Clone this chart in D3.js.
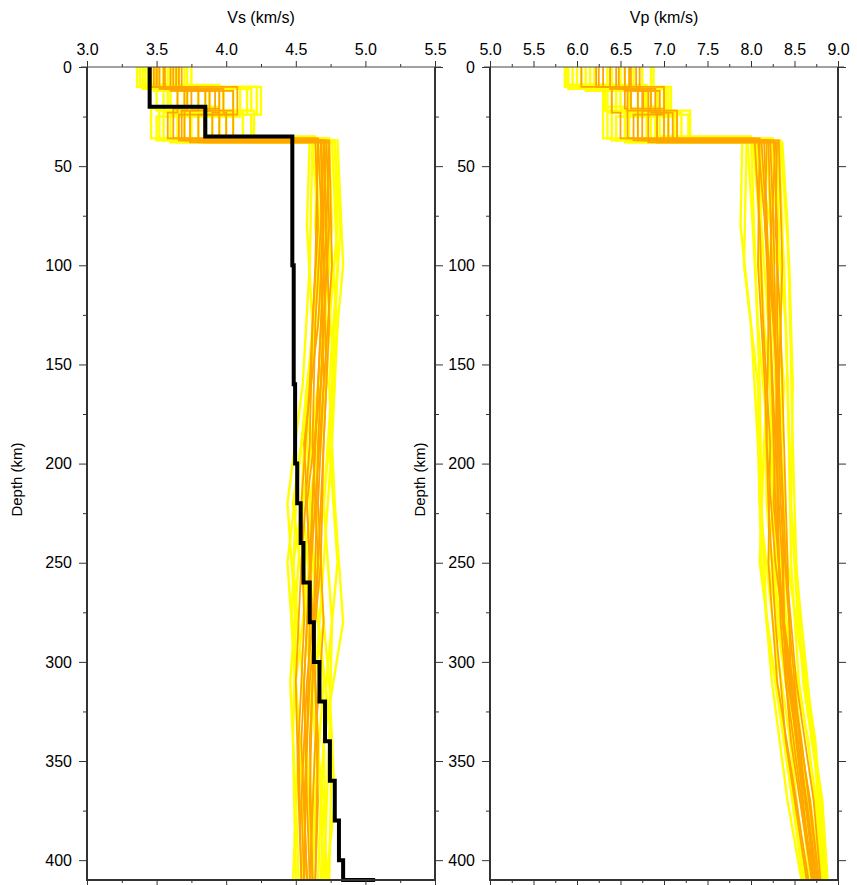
<!DOCTYPE html>
<html>
<head>
<meta charset="utf-8">
<script src="https://cdn.jsdelivr.net/npm/d3@7"></script>
<style>
  html, body { margin: 0; padding: 0; background: #fff; }
  svg { display: block; }
  text { font-family: "Liberation Sans", Arial, Helvetica, sans-serif; fill: #000; }
</style>
</head>
<body>
<svg id="chart" width="857" height="885"></svg>
<script>
// ---- Axis settings ----
const depthMajorTicks = [0, 50, 100, 150, 200, 250, 300, 350, 400];
const depthMinorTicks = [25, 75, 125, 175, 225, 275, 325, 375];
const vsMajorTicks = [3.0, 3.5, 4.0, 4.5, 5.0, 5.5];
const vsMinorTicks = [3.25, 3.75, 4.25, 4.75, 5.25];
const vpMajorTicks = [5.0, 5.5, 6.0, 6.5, 7.0, 7.5, 8.0, 8.5, 9.0];
const vpMinorTicks = [5.25, 5.75, 6.25, 6.75, 7.25, 7.75, 8.25, 8.75];
const depthDomain = [0, 410];
const vsDomain = [3.0, 5.5];
const vpDomain = [5.0, 9.0];

// ---- Ensemble of inverted models ----
// Mantle velocity nodes are given at the Moho and then at one of two node-depth sets,
// chosen by the row length (7 values -> set A, 8 values -> set B).
const nodeDepthsA = [100, 160, 220, 280, 340, 410];
const nodeDepthsB = [80, 130, 190, 250, 310, 370, 410];

// accepted models (yellow)
const allCrustDepths = [
  [11,22,37],[10,24,38],[12,21,36],[9,20,37],[11,25,38],[10,22,36],
  [12,23,37],[11,24,38],[9,21,35],[10,23,37],[12,22,38],[11,20,36],
  [10,24,37],[9,22,38],[11,21,36],[12,25,37],[10,23,38],[11,22,37]
];
const allCrustVs = [
  [3.40,3.70,3.55],[3.75,4.22,4.18],[3.52,3.58,3.46],[3.45,3.95,3.80],[3.65,4.10,3.95],[3.36,3.50,3.70],
  [3.58,3.85,4.05],[3.70,4.15,3.60],[3.42,3.65,3.90],[3.62,3.98,4.12],[3.48,3.80,3.65],[3.55,3.72,3.52],
  [3.72,4.25,4.00],[3.38,3.60,4.20],[3.60,3.88,3.75],[3.50,4.05,3.50],[3.66,3.55,3.85],[3.44,4.18,3.95]
];
const allCrustVp = [
  [5.90,6.45,6.40],[6.88,7.05,7.28],[6.10,6.32,6.30],[6.00,6.80,6.95],[6.60,6.95,7.15],[5.86,6.30,6.70],
  [6.40,6.70,7.05],[6.75,7.00,6.55],[5.95,6.50,6.90],[6.55,6.85,7.20],[6.20,6.62,6.60],[6.35,6.60,6.35],
  [6.85,7.08,7.00],[5.88,6.40,7.30],[6.50,6.78,6.80],[6.15,6.92,6.45],[6.65,6.35,6.85],[6.05,7.02,7.12]
];
const allMantleVs = [
  [4.62,4.60,4.55,4.44,4.50,4.48,4.50],
  [4.78,4.82,4.78,4.74,4.80,4.72,4.68,4.66],
  [4.70,4.74,4.66,4.55,4.62,4.58,4.55],
  [4.66,4.70,4.72,4.62,4.48,4.55,4.60,4.62],
  [4.76,4.80,4.74,4.78,4.84,4.70,4.72],
  [4.60,4.58,4.62,4.56,4.52,4.46,4.50,4.52],
  [4.68,4.72,4.78,4.70,4.60,4.66,4.62],
  [4.74,4.76,4.70,4.64,4.66,4.74,4.78,4.72],
  [4.64,4.68,4.58,4.50,4.47,4.52,4.48],
  [4.72,4.74,4.80,4.76,4.70,4.64,4.68,4.70],
  [4.70,4.66,4.60,4.48,4.58,4.64,4.60],
  [4.66,4.64,4.70,4.66,4.60,4.50,4.55,4.58],
  [4.80,4.84,4.76,4.70,4.76,4.74,4.70],
  [4.62,4.66,4.64,4.58,4.62,4.70,4.64,4.60],
  [4.74,4.70,4.68,4.64,4.70,4.56,4.62],
  [4.68,4.72,4.66,4.54,4.44,4.50,4.56,4.55],
  [4.64,4.76,4.72,4.60,4.66,4.76,4.74],
  [4.78,4.80,4.74,4.68,4.56,4.60,4.70,4.68]
];
const allMantleVp = [
  [7.95,7.92,8.08,8.10,8.25,8.45,8.62],
  [8.36,8.42,8.45,8.48,8.52,8.60,8.80,8.86],
  [8.10,8.20,8.22,8.25,8.35,8.50,8.70],
  [8.02,8.10,8.15,8.30,8.20,8.40,8.60,8.75],
  [8.30,8.38,8.42,8.45,8.58,8.72,8.84],
  [7.90,7.88,8.00,8.08,8.12,8.24,8.42,8.58],
  [8.18,8.25,8.38,8.32,8.40,8.56,8.74],
  [8.28,8.32,8.30,8.35,8.42,8.62,8.82,8.88],
  [8.00,8.05,8.10,8.12,8.18,8.38,8.60],
  [8.22,8.30,8.40,8.44,8.46,8.55,8.75,8.84],
  [8.12,8.10,8.16,8.18,8.30,8.50,8.68],
  [8.05,8.12,8.20,8.25,8.28,8.30,8.50,8.66],
  [8.34,8.44,8.48,8.46,8.54,8.74,8.86],
  [7.96,8.02,8.08,8.20,8.32,8.50,8.66,8.76],
  [8.25,8.22,8.28,8.32,8.44,8.48,8.70],
  [8.08,8.18,8.22,8.15,8.10,8.28,8.48,8.64],
  [8.06,8.30,8.36,8.28,8.40,8.66,8.82],
  [8.32,8.36,8.34,8.30,8.26,8.40,8.68,8.80]
];

// best-fitting models (orange)
const bestCrustDepths = [
  [10,22,37],[11,23,37],[10,21,36],[12,24,38],[11,22,37],[10,23,36],
  [12,22,38],[11,21,37],[10,24,37],[11,22,38],[11,23,37],[10,22,37]
];
const bestCrustVs = [
  [3.50,3.80,3.70],[3.62,3.95,3.90],[3.48,3.70,3.62],[3.68,4.05,3.80],[3.55,3.85,4.05],[3.46,3.65,3.58],
  [3.60,3.92,3.74],[3.52,3.75,3.95],[3.66,4.08,3.66],[3.56,3.88,3.84],[3.64,3.98,4.00],[3.50,3.72,3.68]
];
const bestCrustVp = [
  [6.30,6.70,6.75],[6.60,6.85,7.05],[6.25,6.55,6.58],[6.72,6.95,6.92],[6.45,6.75,7.15],[6.05,6.40,6.50],
  [6.55,6.82,6.82],[6.38,6.62,7.00],[6.68,7.00,6.65],[6.48,6.76,6.92],[6.62,6.90,7.10],[6.22,6.58,6.70]
];
const bestMantleVs = [
  [4.68,4.70,4.66,4.62,4.60,4.58,4.56],
  [4.72,4.74,4.70,4.66,4.64,4.62,4.60,4.62],
  [4.66,4.64,4.60,4.54,4.56,4.52,4.54],
  [4.74,4.72,4.74,4.70,4.68,4.60,4.56,4.58],
  [4.70,4.72,4.68,4.58,4.62,4.66,4.64],
  [4.64,4.66,4.62,4.60,4.54,4.50,4.52,4.54],
  [4.72,4.68,4.70,4.66,4.70,4.64,4.60],
  [4.68,4.70,4.66,4.56,4.60,4.64,4.66,4.64],
  [4.74,4.76,4.70,4.64,4.58,4.54,4.58],
  [4.70,4.68,4.64,4.62,4.66,4.58,4.54,4.56],
  [4.66,4.70,4.72,4.68,4.64,4.60,4.62],
  [4.70,4.72,4.68,4.64,4.60,4.56,4.58,4.60]
];
const bestMantleVp = [
  [8.15,8.20,8.24,8.28,8.36,8.52,8.70],
  [8.26,8.30,8.30,8.34,8.40,8.52,8.72,8.80],
  [8.10,8.08,8.16,8.20,8.28,8.40,8.64],
  [8.30,8.28,8.34,8.38,8.42,8.46,8.62,8.74],
  [8.20,8.24,8.30,8.26,8.38,8.58,8.78],
  [8.04,8.10,8.14,8.22,8.20,8.30,8.52,8.66],
  [8.28,8.22,8.30,8.34,8.44,8.56,8.72],
  [8.12,8.18,8.20,8.18,8.28,8.46,8.68,8.78],
  [8.32,8.36,8.32,8.30,8.34,8.46,8.70],
  [8.18,8.16,8.22,8.28,8.36,8.40,8.58,8.72],
  [8.08,8.20,8.32,8.36,8.38,8.52,8.76],
  [8.22,8.26,8.28,8.30,8.32,8.42,8.64,8.76]
];

// ---- Reference (starting) Vs model: layer tops and velocities ----
const refLayerTops = [0, 20, 35, 100, 160, 200, 220, 240, 260, 280, 300, 320, 340, 360, 380, 400, 410];
const refLayerVs   = [3.45, 3.85, 4.475, 4.485, 4.495, 4.51, 4.535, 4.555, 4.60, 4.63, 4.67, 4.71, 4.745, 4.78, 4.81, 4.84, 5.07];

// ---- Layout ----
const svg = d3.select("#chart");
const plotTop = 67, plotBottom = 880;
const panels = [
  { key: "vs", title: "Vs (km/s)", x0: 87, x1: 435, domain: vsDomain, major: vsMajorTicks, minor: vsMinorTicks },
  { key: "vp", title: "Vp (km/s)", x0: 490, x1: 838, domain: vpDomain, major: vpMajorTicks, minor: vpMinorTicks }
];
const y = d3.scaleLinear().domain(depthDomain).range([plotTop, plotBottom]);

function profilePoints(crustDepths, crustV, mantleV) {
  const [h1, h2, moho] = crustDepths;
  const pts = [
    [crustV[0], 0], [crustV[0], h1],
    [crustV[1], h1], [crustV[1], h2],
    [crustV[2], h2], [crustV[2], moho],
    [mantleV[0], moho]
  ];
  const nodes = mantleV.length === 7 ? nodeDepthsA : nodeDepthsB;
  nodes.forEach((d, i) => pts.push([mantleV[i + 1], d]));
  return pts;
}

const fontStack = '"Liberation Sans", Arial, Helvetica, sans-serif';

panels.forEach(p => {
  const x = d3.scaleLinear().domain(p.domain).range([p.x0, p.x1]);
  const g = svg.append("g");
  const clipId = "clip-" + p.key;
  svg.append("clipPath").attr("id", clipId)
    .append("rect").attr("x", p.x0).attr("y", plotTop).attr("width", p.x1 - p.x0).attr("height", plotBottom - plotTop);

  const line = d3.line().x(d => x(d[0])).y(d => y(d[1]));
  const plot = g.append("g").attr("clip-path", `url(#${clipId})`);

  const groups = [
    { depths: allCrustDepths, crust: p.key === "vs" ? allCrustVs : allCrustVp,
      mantle: p.key === "vs" ? allMantleVs : allMantleVp, color: "#ffff00", width: 2.4 },
    { depths: bestCrustDepths, crust: p.key === "vs" ? bestCrustVs : bestCrustVp,
      mantle: p.key === "vs" ? bestMantleVs : bestMantleVp, color: "#ffa500", width: 1.8 }
  ];
  groups.forEach(gr => {
    plot.append("g").selectAll("path")
      .data(gr.depths.map((d, i) => profilePoints(d, gr.crust[i], gr.mantle[i])))
      .join("path")
      .attr("d", line)
      .attr("fill", "none")
      .attr("stroke", gr.color)
      .attr("stroke-width", gr.width)
      .attr("stroke-linejoin", "miter");
  });

  if (p.key === "vs") {
    const refPts = [];
    refLayerTops.forEach((t, i) => {
      const b = i + 1 < refLayerTops.length ? refLayerTops[i + 1] : t;
      refPts.push([refLayerVs[i], t], [refLayerVs[i], b]);
    });
    g.append("path")
      .attr("d", line(refPts))
      .attr("fill", "none")
      .attr("stroke", "#000")
      .attr("stroke-width", 4)
      .attr("stroke-linejoin", "miter");
  }

  // axes
  g.append("g").attr("transform", `translate(0,${plotTop})`)
    .call(d3.axisTop(x).tickValues(p.major).tickSize(6).tickSizeOuter(0).tickPadding(6).tickFormat(d3.format(".1f")));
  g.append("g").attr("transform", `translate(0,${plotTop})`)
    .call(d3.axisTop(x).tickValues(p.minor).tickSize(3).tickSizeOuter(0).tickFormat(""));
  g.append("g").attr("transform", `translate(0,${plotBottom})`)
    .call(d3.axisBottom(x).tickValues(p.major).tickSize(6).tickSizeOuter(0).tickFormat(""));
  g.append("g").attr("transform", `translate(0,${plotBottom})`)
    .call(d3.axisBottom(x).tickValues(p.minor).tickSize(3).tickSizeOuter(0).tickFormat(""));
  g.append("g").attr("transform", `translate(${p.x0},0)`)
    .call(d3.axisLeft(y).tickValues(depthMajorTicks).tickSize(8).tickSizeOuter(0).tickPadding(7));
  g.append("g").attr("transform", `translate(${p.x0},0)`)
    .call(d3.axisLeft(y).tickValues(depthMinorTicks).tickSize(4).tickSizeOuter(0).tickFormat(""));
  g.append("g").attr("transform", `translate(${p.x1},0)`)
    .call(d3.axisRight(y).tickValues(depthMajorTicks).tickSize(8).tickSizeOuter(0).tickFormat(""));
  g.append("g").attr("transform", `translate(${p.x1},0)`)
    .call(d3.axisRight(y).tickValues(depthMinorTicks).tickSize(4).tickSizeOuter(0).tickFormat(""));

  g.selectAll(".domain").remove();
  g.selectAll(".tick line").attr("stroke", "#333").attr("stroke-width", 1);
  g.selectAll(".tick text").style("font-size", "16px").attr("fill", "#000")
    .style("font-family", fontStack);

  // frame
  g.append("line").attr("x1", p.x0 - 6).attr("x2", p.x1 + 6).attr("y1", plotTop).attr("y2", plotTop)
    .attr("stroke", "#444").attr("stroke-width", 1.2);
  g.append("line").attr("x1", p.x0 - 1).attr("x2", p.x1 + 1).attr("y1", plotBottom).attr("y2", plotBottom)
    .attr("stroke", "#333").attr("stroke-width", 2);
  [p.x0, p.x1].forEach(xx => {
    g.append("line").attr("x1", xx).attr("x2", xx).attr("y1", plotTop).attr("y2", plotBottom)
      .attr("stroke", "#333").attr("stroke-width", 2);
  });

  // titles
  g.append("text").attr("x", (p.x0 + p.x1) / 2).attr("y", 23)
    .attr("text-anchor", "middle").style("font-size", "16px").text(p.title);
  g.append("text")
    .attr("transform", `translate(${p.x0 - 65},${(plotTop + plotBottom) / 2 + 6}) rotate(-90)`)
    .attr("text-anchor", "middle").style("font-size", "15px").text("Depth (km)");
});
</script>
</body>
</html>
